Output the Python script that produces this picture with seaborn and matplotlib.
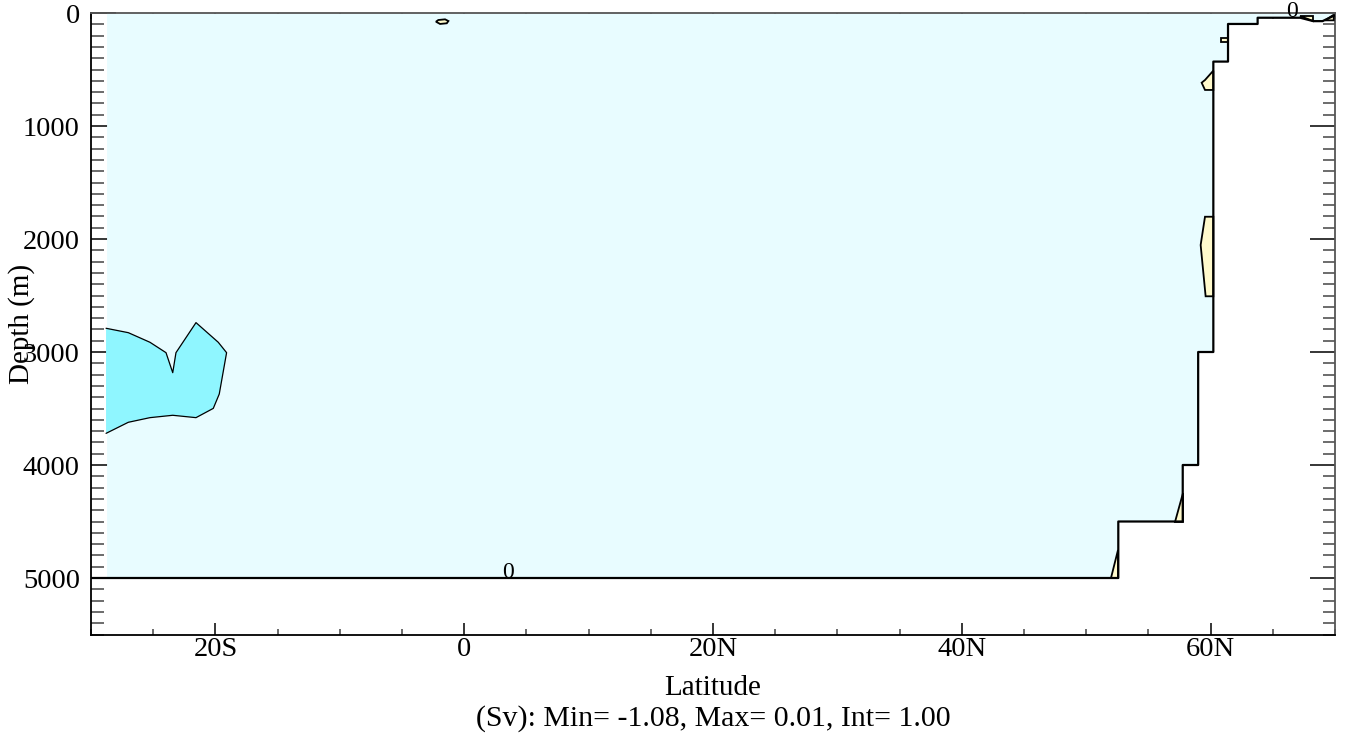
import numpy as np
import matplotlib
matplotlib.use("Agg")
import matplotlib.pyplot as plt
import seaborn as sns

# ---------------- data ----------------
# bottom topography (step profile), latitude in degrees, depth in m
topo_lat = [-30.0, 52.58, 52.58, 57.76, 57.76, 59.0, 59.0, 60.22, 60.22,
            61.4, 61.4, 63.78, 63.78, 67.2, 68.25, 69.0, 69.8, 70.0]
topo_depth = [5000, 5000, 4500, 4500, 4000, 4000, 3000, 3000, 430,
              430, 97, 97, 42, 42, 72, 72, 30, 20]
data_start_lat = -28.75

# region below -1 Sv (deep cyan), open on the western data edge
neg_lat = [-28.79, -27.0, -25.26, -23.97, -23.43, -23.17, -21.56, -19.77,
           -19.1, -19.69, -20.17, -21.56, -23.43, -25.26, -27.0, -28.79]
neg_depth = [2790, 2829, 2914, 3006, 3183, 3006, 2740, 2914,
             3006, 3372, 3499, 3581, 3560, 3581, 3622, 3720]

# small positive (> 0 Sv) patches
pos_patches_lat = [
    [-2.27, -2.08, -1.54, -1.27, -1.40, -1.94],
    [60.22, 59.55, 59.28, 59.55, 60.22],
    [60.8, 61.4, 61.4, 60.8],
    [59.55, 60.22, 60.22, 59.6, 59.2],
    [57.76, 57.76, 57.16],
    [52.58, 52.58, 51.96],
    [67.2, 68.25, 68.25],
    [69.2, 69.9, 69.9],
]
pos_patches_depth = [
    [77, 62, 56, 71, 91, 97],
    [510, 593, 617, 681, 681],
    [224, 224, 254, 254],
    [1803, 1803, 2507, 2507, 2053],
    [4250, 4500, 4500],
    [4752, 5000, 5000],
    [27, 27, 72],
    [65, 15, 65],
]

# contour labels
clabel_lat = [3.52, 66.58]
clabel_depth = [5000, 35]
clabel_text = ["0", "0"]

xtick_vals = [-20, 0, 20, 40, 60]
xtick_labels = ["20S", "0", "20N", "40N", "60N"]
ytick_vals = [0, 1000, 2000, 3000, 4000, 5000]
ytick_labels = ["0", "1000", "2000", "3000", "4000", "5000"]

xlabel = "Latitude"
ylabel = "Depth (m)"
note = "(Sv): Min= -1.08, Max= 0.01, Int= 1.00"

# ---------------- style ----------------
sns.set_theme(style="ticks")
plt.rcParams['font.family'] = ['Liberation Serif', 'DejaVu Serif']
plt.rcParams['text.color'] = 'black'
plt.rcParams['axes.labelcolor'] = 'black'
plt.rcParams['xtick.color'] = 'black'
plt.rcParams['ytick.color'] = 'black'

ocean_col = "#E8FCFF"
neg_col = "#8FF6FF"
pos_col = "#FFFACC"

W, H = 1345, 740
fig = plt.figure(figsize=(W / 100, H / 100), dpi=100)
left, right, top, bottom = 91, 1335, 13, 634.5
ax = fig.add_axes([left / W, 1 - bottom / H, (right - left) / W, (bottom - top) / H])
ax.set_facecolor("white")

# ocean domain fill
ocean_lat = [data_start_lat] + topo_lat[1:]
ax.fill_between(ocean_lat, 0, topo_depth, color=ocean_col, lw=0, zorder=1)

# region below -1 Sv
ax.fill(neg_lat, neg_depth, color=neg_col, lw=0, zorder=2)
ax.plot(neg_lat, neg_depth, color="black", lw=0.9, zorder=3)

# positive patches
for la, de in zip(pos_patches_lat, pos_patches_depth):
    ax.fill(la, de, facecolor=pos_col, edgecolor="black", lw=1.3, zorder=3)

# topography / zero contour
sns.lineplot(x=topo_lat, y=topo_depth, sort=False, estimator=None,
             color="black", lw=1.6, ax=ax, zorder=4)

for la, de, t in zip(clabel_lat, clabel_depth, clabel_text):
    ax.text(la, de, t, ha="center", va="baseline", fontsize=17,
            color="black", zorder=5, clip_on=False)

ax.set_xlim(-30, 70)
ax.set_ylim(5500, 0)

ax.set_xticks(xtick_vals)
ax.set_xticklabels(xtick_labels)
ax.set_xticks(np.arange(-30, 71, 5), minor=True)
ax.set_yticks(ytick_vals)
ax.set_yticklabels(ytick_labels)
ax.set_yticks(np.arange(0, 5501, 100), minor=True)

ax.tick_params(axis="x", which="major", direction="in", length=9, width=1.1,
               top=True, bottom=True, labelsize=20.5, pad=2,
               color="black", labelcolor="black")
ax.tick_params(axis="x", which="minor", direction="in", length=4.5, width=1.1,
               top=True, bottom=True, color="#444444")
ax.tick_params(axis="y", which="major", direction="in", length=18, width=1.1,
               left=True, right=True, labelsize=20.5, pad=8,
               color="black", labelcolor="black")
ax.tick_params(axis="y", which="minor", direction="in", length=9, width=1.1,
               left=True, right=True, color="#444444")

for s in ax.spines.values():
    s.set_visible(True)
    s.set_color("black")
    s.set_linewidth(1.3)
ax.spines["top"].set_color("#555555")
ax.spines["right"].set_color("#555555")

ax.set_xlabel(xlabel, fontsize=21, color="black")
ax.set_ylabel(ylabel, fontsize=21, color="black")
ax.xaxis.set_label_coords(0.5, (bottom - 688) / (bottom - top))
ax.xaxis.label.set_va("center")
ax.yaxis.set_label_coords((22 - left) / (right - left), 0.5)
ax.yaxis.label.set_va("center")

fig.text(713 / W, 1 - 719 / H, note, ha="center", va="center",
         fontsize=21.5, color="black")

fig.savefig("out.png", dpi=100)
